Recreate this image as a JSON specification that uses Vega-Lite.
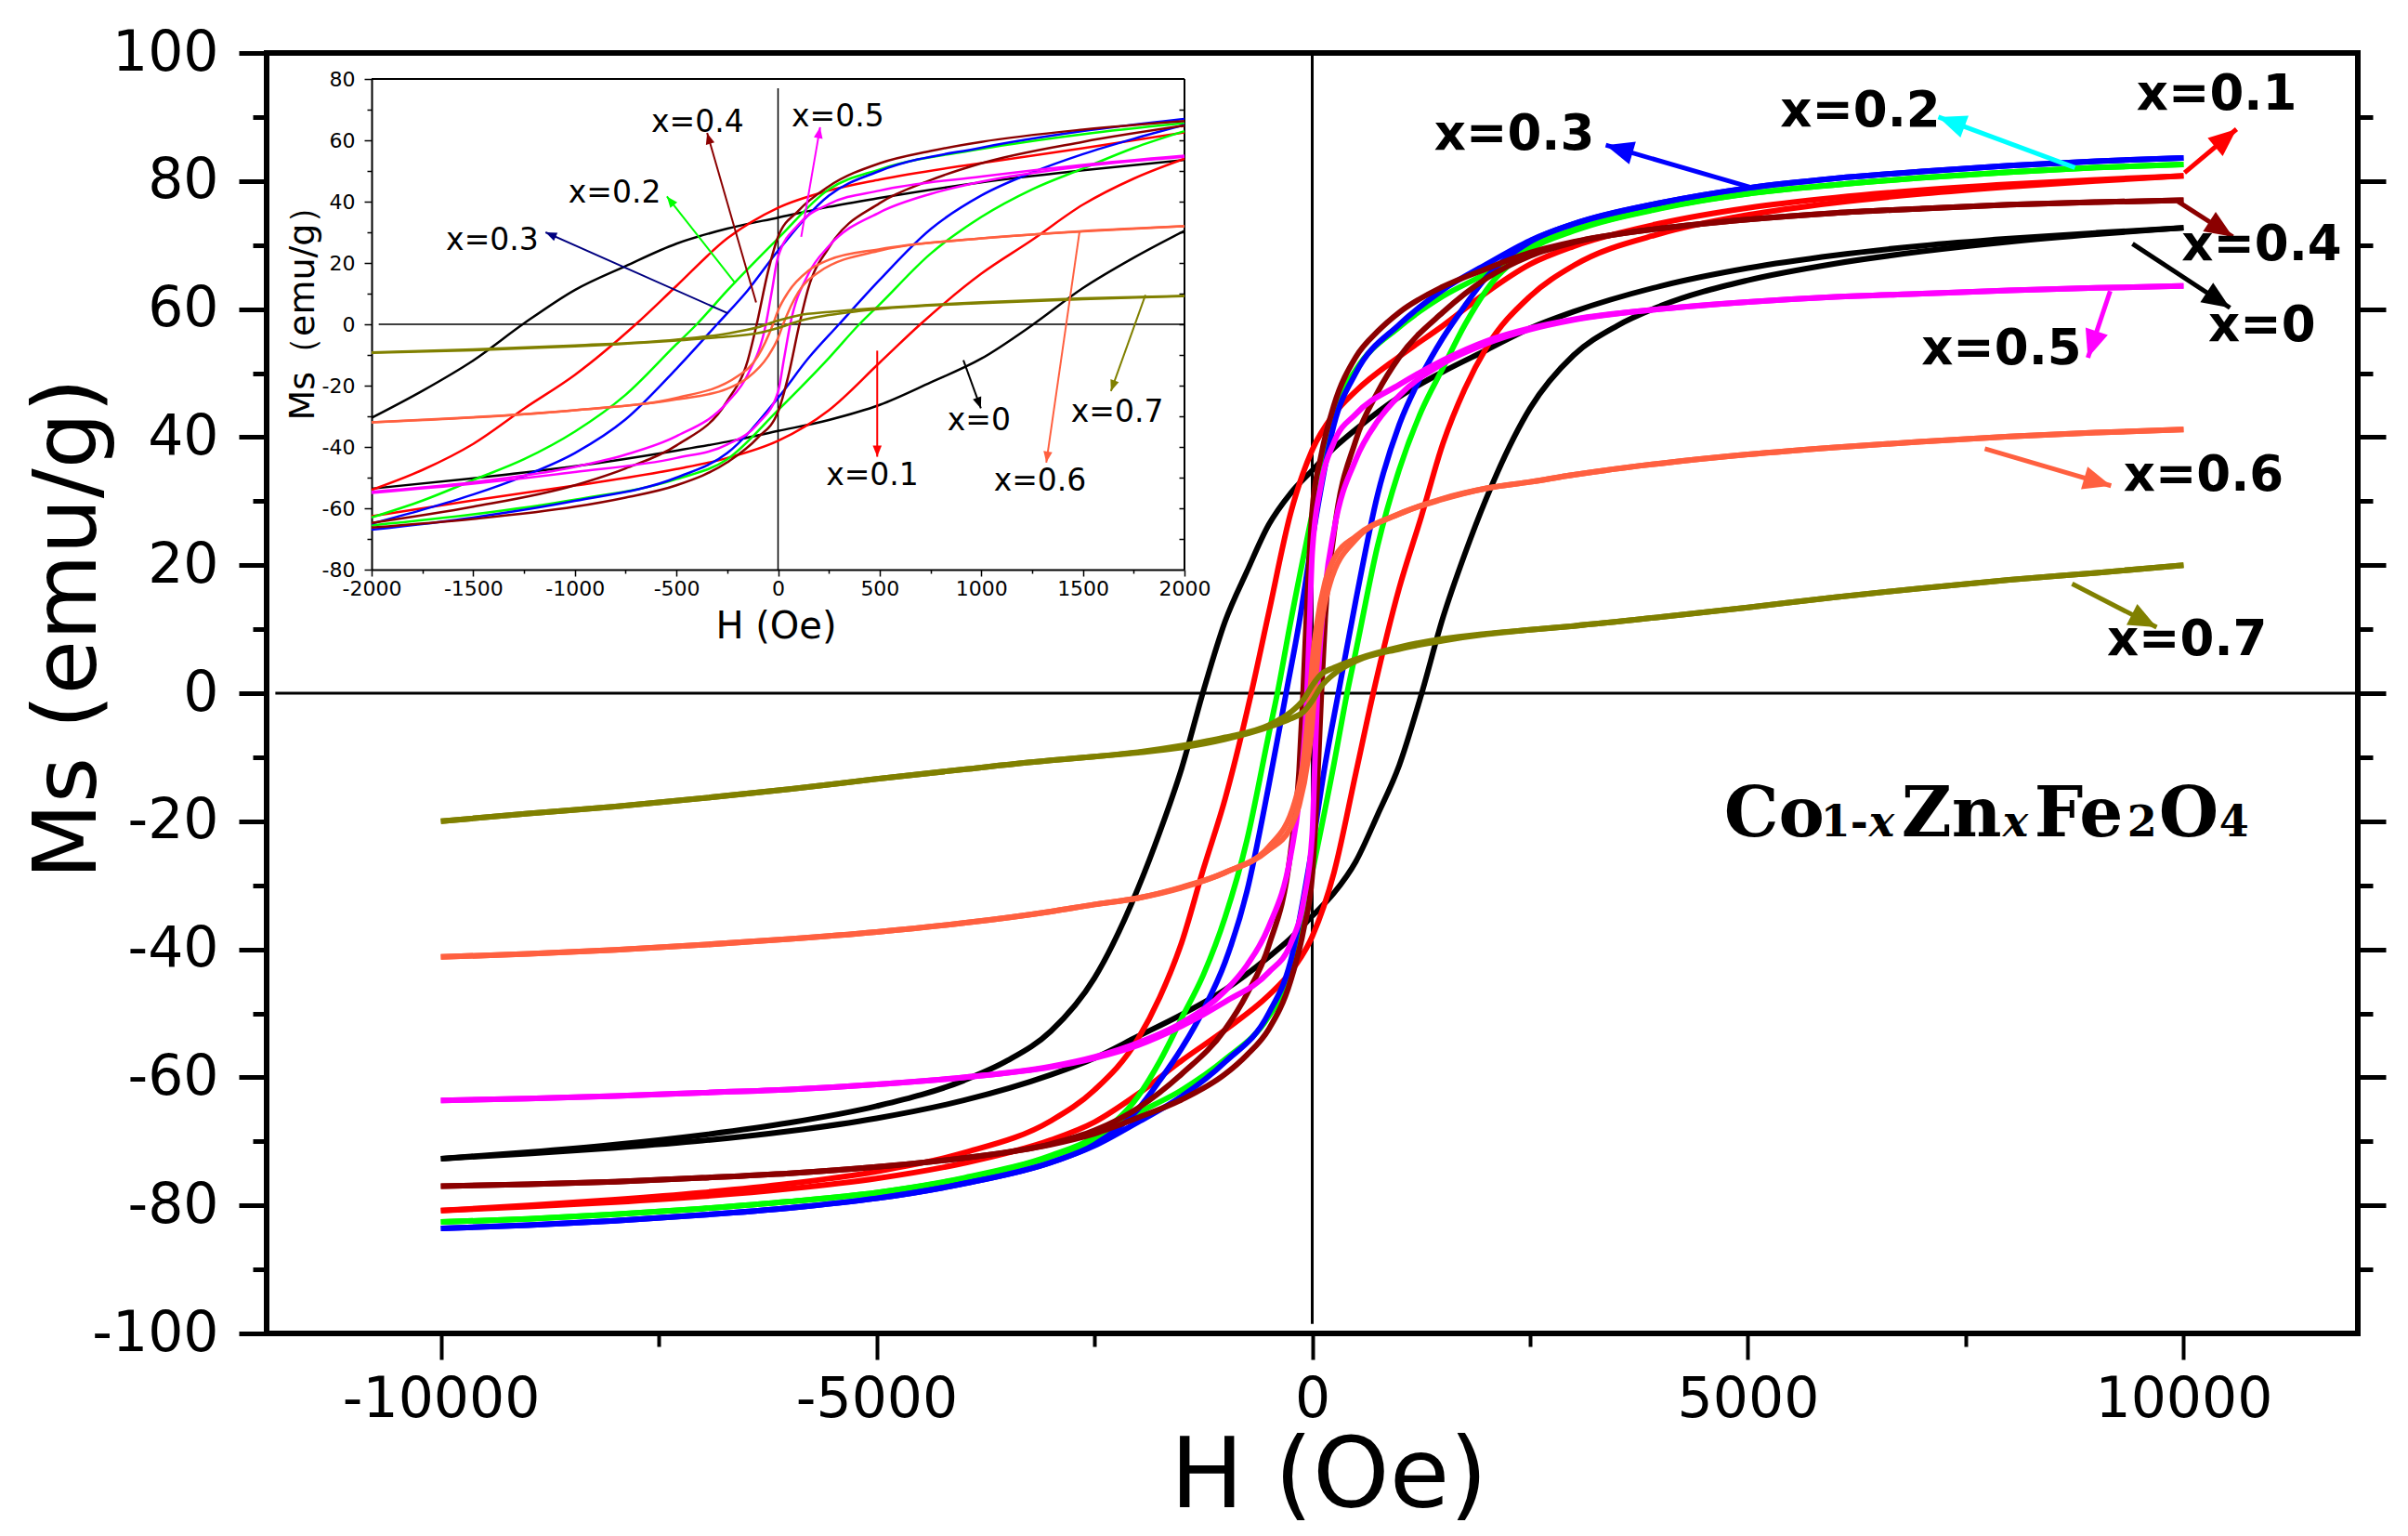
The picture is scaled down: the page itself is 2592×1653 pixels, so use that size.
{
"$schema": "https://vega.github.io/schema/vega-lite/v6.json",
"width": 2251, "height": 1378,
"autosize": {"type": "none"},
"padding": {"left": 287, "top": 57, "right": 54, "bottom": 218},
"background": "white",
"config": {
  "view": {"stroke": "black", "strokeWidth": 6},
  "font": "DejaVu Sans",
  "axis": {"grid": false, "labelFont": "DejaVu Sans", "titleFont": "DejaVu Sans", "labelColor": "black", "titleColor": "black", "tickColor": "black", "domainColor": "black", "labelFlush": false, "labelOverlap": false, "labelBound": false, "labelLimit": 0, "titleFontWeight": "normal"}
},
"datasets": {
"loops": [
{"s":"x=0","b":"u","h":10000,"m":72.7},{"s":"x=0","b":"u","h":9000,"m":71.9},{"s":"x=0","b":"u","h":8000,"m":71.0},{"s":"x=0","b":"u","h":7000,"m":69.9},{"s":"x=0","b":"u","h":6000,"m":68.4},{"s":"x=0","b":"u","h":5000,"m":66.4},{"s":"x=0","b":"u","h":4000,"m":63.6},{"s":"x=0","b":"u","h":3000,"m":59.6},{"s":"x=0","b":"u","h":2500,"m":57.0},{"s":"x=0","b":"u","h":2000,"m":53.6},{"s":"x=0","b":"u","h":1500,"m":50.2},{"s":"x=0","b":"u","h":1000,"m":46.3},{"s":"x=0","b":"u","h":500,"m":41.2},{"s":"x=0","b":"u","h":250,"m":38.3},{"s":"x=0","b":"u","h":0,"m":34.8},{"s":"x=0","b":"u","h":-250,"m":31.2},{"s":"x=0","b":"u","h":-500,"m":26.3},{"s":"x=0","b":"u","h":-750,"m":19.0},{"s":"x=0","b":"u","h":-1000,"m":11.2},{"s":"x=0","b":"u","h":-1250,"m":0.3},{"s":"x=0","b":"u","h":-1500,"m":-11.8},{"s":"x=0","b":"u","h":-1750,"m":-21.7},{"s":"x=0","b":"u","h":-2000,"m":-30.5},{"s":"x=0","b":"u","h":-2500,"m":-44.5},{"s":"x=0","b":"u","h":-3000,"m":-52.8},{"s":"x=0","b":"u","h":-3500,"m":-57.4},{"s":"x=0","b":"u","h":-4000,"m":-60.5},{"s":"x=0","b":"u","h":-5000,"m":-64.5},{"s":"x=0","b":"u","h":-6000,"m":-67.1},{"s":"x=0","b":"u","h":-7000,"m":-69.0},{"s":"x=0","b":"u","h":-8000,"m":-70.5},{"s":"x=0","b":"u","h":-9000,"m":-71.7},{"s":"x=0","b":"u","h":-10000,"m":-72.7},
{"s":"x=0","b":"d","h":-10000,"m":-72.7},{"s":"x=0","b":"d","h":-9000,"m":-71.9},{"s":"x=0","b":"d","h":-8000,"m":-71.0},{"s":"x=0","b":"d","h":-7000,"m":-69.9},{"s":"x=0","b":"d","h":-6000,"m":-68.4},{"s":"x=0","b":"d","h":-5000,"m":-66.4},{"s":"x=0","b":"d","h":-4000,"m":-63.6},{"s":"x=0","b":"d","h":-3000,"m":-59.6},{"s":"x=0","b":"d","h":-2500,"m":-57.0},{"s":"x=0","b":"d","h":-2000,"m":-53.6},{"s":"x=0","b":"d","h":-1500,"m":-50.2},{"s":"x=0","b":"d","h":-1000,"m":-46.3},{"s":"x=0","b":"d","h":-500,"m":-41.2},{"s":"x=0","b":"d","h":-250,"m":-38.3},{"s":"x=0","b":"d","h":0,"m":-34.8},{"s":"x=0","b":"d","h":250,"m":-31.2},{"s":"x=0","b":"d","h":500,"m":-26.3},{"s":"x=0","b":"d","h":750,"m":-19.0},{"s":"x=0","b":"d","h":1000,"m":-11.2},{"s":"x=0","b":"d","h":1250,"m":-0.3},{"s":"x=0","b":"d","h":1500,"m":11.8},{"s":"x=0","b":"d","h":1750,"m":21.7},{"s":"x=0","b":"d","h":2000,"m":30.5},{"s":"x=0","b":"d","h":2500,"m":44.5},{"s":"x=0","b":"d","h":3000,"m":52.8},{"s":"x=0","b":"d","h":3500,"m":57.4},{"s":"x=0","b":"d","h":4000,"m":60.5},{"s":"x=0","b":"d","h":5000,"m":64.5},{"s":"x=0","b":"d","h":6000,"m":67.1},{"s":"x=0","b":"d","h":7000,"m":69.0},{"s":"x=0","b":"d","h":8000,"m":70.5},{"s":"x=0","b":"d","h":9000,"m":71.7},{"s":"x=0","b":"d","h":10000,"m":72.7},
{"s":"x=0.1","b":"u","h":10000,"m":80.8},{"s":"x=0.1","b":"u","h":9000,"m":80.2},{"s":"x=0.1","b":"u","h":8000,"m":79.5},{"s":"x=0.1","b":"u","h":7000,"m":78.6},{"s":"x=0.1","b":"u","h":6000,"m":77.4},{"s":"x=0.1","b":"u","h":5000,"m":75.8},{"s":"x=0.1","b":"u","h":4000,"m":73.4},{"s":"x=0.1","b":"u","h":3000,"m":69.8},{"s":"x=0.1","b":"u","h":2500,"m":67.0},{"s":"x=0.1","b":"u","h":2000,"m":62.6},{"s":"x=0.1","b":"u","h":1500,"m":57.4},{"s":"x=0.1","b":"u","h":1000,"m":52.6},{"s":"x=0.1","b":"u","h":500,"m":47.2},{"s":"x=0.1","b":"u","h":250,"m":43.6},{"s":"x=0.1","b":"u","h":0,"m":38.0},{"s":"x=0.1","b":"u","h":-250,"m":28.0},{"s":"x=0.1","b":"u","h":-500,"m":12.5},{"s":"x=0.1","b":"u","h":-700,"m":0.0},{"s":"x=0.1","b":"u","h":-1000,"m":-16.5},{"s":"x=0.1","b":"u","h":-1250,"m":-27.5},{"s":"x=0.1","b":"u","h":-1500,"m":-39.0},{"s":"x=0.1","b":"u","h":-1750,"m":-47.5},{"s":"x=0.1","b":"u","h":-2000,"m":-54.0},{"s":"x=0.1","b":"u","h":-2500,"m":-62.0},{"s":"x=0.1","b":"u","h":-3000,"m":-66.8},{"s":"x=0.1","b":"u","h":-4000,"m":-71.8},{"s":"x=0.1","b":"u","h":-5000,"m":-74.7},{"s":"x=0.1","b":"u","h":-6000,"m":-76.6},{"s":"x=0.1","b":"u","h":-7000,"m":-78.0},{"s":"x=0.1","b":"u","h":-8000,"m":-79.1},{"s":"x=0.1","b":"u","h":-9000,"m":-80.0},{"s":"x=0.1","b":"u","h":-10000,"m":-80.8},
{"s":"x=0.1","b":"d","h":-10000,"m":-80.8},{"s":"x=0.1","b":"d","h":-9000,"m":-80.2},{"s":"x=0.1","b":"d","h":-8000,"m":-79.5},{"s":"x=0.1","b":"d","h":-7000,"m":-78.6},{"s":"x=0.1","b":"d","h":-6000,"m":-77.4},{"s":"x=0.1","b":"d","h":-5000,"m":-75.8},{"s":"x=0.1","b":"d","h":-4000,"m":-73.4},{"s":"x=0.1","b":"d","h":-3000,"m":-69.8},{"s":"x=0.1","b":"d","h":-2500,"m":-67.0},{"s":"x=0.1","b":"d","h":-2000,"m":-62.6},{"s":"x=0.1","b":"d","h":-1500,"m":-57.4},{"s":"x=0.1","b":"d","h":-1000,"m":-52.6},{"s":"x=0.1","b":"d","h":-500,"m":-47.2},{"s":"x=0.1","b":"d","h":-250,"m":-43.6},{"s":"x=0.1","b":"d","h":0,"m":-38.0},{"s":"x=0.1","b":"d","h":250,"m":-28.0},{"s":"x=0.1","b":"d","h":500,"m":-12.5},{"s":"x=0.1","b":"d","h":700,"m":0.0},{"s":"x=0.1","b":"d","h":1000,"m":16.5},{"s":"x=0.1","b":"d","h":1250,"m":27.5},{"s":"x=0.1","b":"d","h":1500,"m":39.0},{"s":"x=0.1","b":"d","h":1750,"m":47.5},{"s":"x=0.1","b":"d","h":2000,"m":54.0},{"s":"x=0.1","b":"d","h":2500,"m":62.0},{"s":"x=0.1","b":"d","h":3000,"m":66.8},{"s":"x=0.1","b":"d","h":4000,"m":71.8},{"s":"x=0.1","b":"d","h":5000,"m":74.7},{"s":"x=0.1","b":"d","h":6000,"m":76.6},{"s":"x=0.1","b":"d","h":7000,"m":78.0},{"s":"x=0.1","b":"d","h":8000,"m":79.1},{"s":"x=0.1","b":"d","h":9000,"m":80.0},{"s":"x=0.1","b":"d","h":10000,"m":80.8},
{"s":"x=0.2","b":"u","h":10000,"m":82.6},{"s":"x=0.2","b":"u","h":9000,"m":82.1},{"s":"x=0.2","b":"u","h":8000,"m":81.4},{"s":"x=0.2","b":"u","h":7000,"m":80.5},{"s":"x=0.2","b":"u","h":6000,"m":79.4},{"s":"x=0.2","b":"u","h":5000,"m":78.0},{"s":"x=0.2","b":"u","h":4000,"m":75.8},{"s":"x=0.2","b":"u","h":3000,"m":72.4},{"s":"x=0.2","b":"u","h":2500,"m":69.8},{"s":"x=0.2","b":"u","h":2000,"m":65.6},{"s":"x=0.2","b":"u","h":1500,"m":62.0},{"s":"x=0.2","b":"u","h":1000,"m":57.2},{"s":"x=0.2","b":"u","h":500,"m":50.5},{"s":"x=0.2","b":"u","h":250,"m":44.0},{"s":"x=0.2","b":"u","h":0,"m":28.0},{"s":"x=0.2","b":"u","h":-250,"m":11.0},{"s":"x=0.2","b":"u","h":-400,"m":0.0},{"s":"x=0.2","b":"u","h":-500,"m":-6.5},{"s":"x=0.2","b":"u","h":-750,"m":-23.0},{"s":"x=0.2","b":"u","h":-1000,"m":-35.0},{"s":"x=0.2","b":"u","h":-1250,"m":-44.0},{"s":"x=0.2","b":"u","h":-1500,"m":-50.8},{"s":"x=0.2","b":"u","h":-1750,"m":-57.5},{"s":"x=0.2","b":"u","h":-2000,"m":-63.0},{"s":"x=0.2","b":"u","h":-2500,"m":-69.3},{"s":"x=0.2","b":"u","h":-3000,"m":-72.2},{"s":"x=0.2","b":"u","h":-4000,"m":-75.7},{"s":"x=0.2","b":"u","h":-5000,"m":-78.0},{"s":"x=0.2","b":"u","h":-6000,"m":-79.4},{"s":"x=0.2","b":"u","h":-7000,"m":-80.5},{"s":"x=0.2","b":"u","h":-8000,"m":-81.4},{"s":"x=0.2","b":"u","h":-9000,"m":-82.1},{"s":"x=0.2","b":"u","h":-10000,"m":-82.6},
{"s":"x=0.2","b":"d","h":-10000,"m":-82.6},{"s":"x=0.2","b":"d","h":-9000,"m":-82.1},{"s":"x=0.2","b":"d","h":-8000,"m":-81.4},{"s":"x=0.2","b":"d","h":-7000,"m":-80.5},{"s":"x=0.2","b":"d","h":-6000,"m":-79.4},{"s":"x=0.2","b":"d","h":-5000,"m":-78.0},{"s":"x=0.2","b":"d","h":-4000,"m":-75.8},{"s":"x=0.2","b":"d","h":-3000,"m":-72.4},{"s":"x=0.2","b":"d","h":-2500,"m":-69.8},{"s":"x=0.2","b":"d","h":-2000,"m":-65.6},{"s":"x=0.2","b":"d","h":-1500,"m":-62.0},{"s":"x=0.2","b":"d","h":-1000,"m":-57.2},{"s":"x=0.2","b":"d","h":-500,"m":-50.5},{"s":"x=0.2","b":"d","h":-250,"m":-44.0},{"s":"x=0.2","b":"d","h":0,"m":-28.0},{"s":"x=0.2","b":"d","h":250,"m":-11.0},{"s":"x=0.2","b":"d","h":400,"m":0.0},{"s":"x=0.2","b":"d","h":500,"m":6.5},{"s":"x=0.2","b":"d","h":750,"m":23.0},{"s":"x=0.2","b":"d","h":1000,"m":35.0},{"s":"x=0.2","b":"d","h":1250,"m":44.0},{"s":"x=0.2","b":"d","h":1500,"m":50.8},{"s":"x=0.2","b":"d","h":1750,"m":57.5},{"s":"x=0.2","b":"d","h":2000,"m":63.0},{"s":"x=0.2","b":"d","h":2500,"m":69.3},{"s":"x=0.2","b":"d","h":3000,"m":72.2},{"s":"x=0.2","b":"d","h":4000,"m":75.7},{"s":"x=0.2","b":"d","h":5000,"m":78.0},{"s":"x=0.2","b":"d","h":6000,"m":79.4},{"s":"x=0.2","b":"d","h":7000,"m":80.5},{"s":"x=0.2","b":"d","h":8000,"m":81.4},{"s":"x=0.2","b":"d","h":9000,"m":82.1},{"s":"x=0.2","b":"d","h":10000,"m":82.6},
{"s":"x=0.3","b":"u","h":10000,"m":83.6},{"s":"x=0.3","b":"u","h":9000,"m":83.1},{"s":"x=0.3","b":"u","h":8000,"m":82.4},{"s":"x=0.3","b":"u","h":7000,"m":81.5},{"s":"x=0.3","b":"u","h":6000,"m":80.4},{"s":"x=0.3","b":"u","h":5000,"m":78.9},{"s":"x=0.3","b":"u","h":4000,"m":76.6},{"s":"x=0.3","b":"u","h":3000,"m":73.3},{"s":"x=0.3","b":"u","h":2500,"m":70.7},{"s":"x=0.3","b":"u","h":2000,"m":67.0},{"s":"x=0.3","b":"u","h":1500,"m":63.0},{"s":"x=0.3","b":"u","h":1000,"m":57.6},{"s":"x=0.3","b":"u","h":500,"m":50.0},{"s":"x=0.3","b":"u","h":250,"m":42.0},{"s":"x=0.3","b":"u","h":0,"m":24.0},{"s":"x=0.3","b":"u","h":-150,"m":11.0},{"s":"x=0.3","b":"u","h":-300,"m":0.0},{"s":"x=0.3","b":"u","h":-500,"m":-14.5},{"s":"x=0.3","b":"u","h":-750,"m":-31.0},{"s":"x=0.3","b":"u","h":-1000,"m":-42.0},{"s":"x=0.3","b":"u","h":-1250,"m":-49.5},{"s":"x=0.3","b":"u","h":-1500,"m":-55.5},{"s":"x=0.3","b":"u","h":-1750,"m":-60.5},{"s":"x=0.3","b":"u","h":-2000,"m":-65.0},{"s":"x=0.3","b":"u","h":-2500,"m":-70.5},{"s":"x=0.3","b":"u","h":-3000,"m":-73.3},{"s":"x=0.3","b":"u","h":-4000,"m":-76.6},{"s":"x=0.3","b":"u","h":-5000,"m":-78.9},{"s":"x=0.3","b":"u","h":-6000,"m":-80.4},{"s":"x=0.3","b":"u","h":-7000,"m":-81.5},{"s":"x=0.3","b":"u","h":-8000,"m":-82.4},{"s":"x=0.3","b":"u","h":-9000,"m":-83.1},{"s":"x=0.3","b":"u","h":-10000,"m":-83.6},
{"s":"x=0.3","b":"d","h":-10000,"m":-83.6},{"s":"x=0.3","b":"d","h":-9000,"m":-83.1},{"s":"x=0.3","b":"d","h":-8000,"m":-82.4},{"s":"x=0.3","b":"d","h":-7000,"m":-81.5},{"s":"x=0.3","b":"d","h":-6000,"m":-80.4},{"s":"x=0.3","b":"d","h":-5000,"m":-78.9},{"s":"x=0.3","b":"d","h":-4000,"m":-76.6},{"s":"x=0.3","b":"d","h":-3000,"m":-73.3},{"s":"x=0.3","b":"d","h":-2500,"m":-70.7},{"s":"x=0.3","b":"d","h":-2000,"m":-67.0},{"s":"x=0.3","b":"d","h":-1500,"m":-63.0},{"s":"x=0.3","b":"d","h":-1000,"m":-57.6},{"s":"x=0.3","b":"d","h":-500,"m":-50.0},{"s":"x=0.3","b":"d","h":-250,"m":-42.0},{"s":"x=0.3","b":"d","h":0,"m":-24.0},{"s":"x=0.3","b":"d","h":150,"m":-11.0},{"s":"x=0.3","b":"d","h":300,"m":0.0},{"s":"x=0.3","b":"d","h":500,"m":14.5},{"s":"x=0.3","b":"d","h":750,"m":31.0},{"s":"x=0.3","b":"d","h":1000,"m":42.0},{"s":"x=0.3","b":"d","h":1250,"m":49.5},{"s":"x=0.3","b":"d","h":1500,"m":55.5},{"s":"x=0.3","b":"d","h":1750,"m":60.5},{"s":"x=0.3","b":"d","h":2000,"m":65.0},{"s":"x=0.3","b":"d","h":2500,"m":70.5},{"s":"x=0.3","b":"d","h":3000,"m":73.3},{"s":"x=0.3","b":"d","h":4000,"m":76.6},{"s":"x=0.3","b":"d","h":5000,"m":78.9},{"s":"x=0.3","b":"d","h":6000,"m":80.4},{"s":"x=0.3","b":"d","h":7000,"m":81.5},{"s":"x=0.3","b":"d","h":8000,"m":82.4},{"s":"x=0.3","b":"d","h":9000,"m":83.1},{"s":"x=0.3","b":"d","h":10000,"m":83.6},
{"s":"x=0.4","b":"u","h":10000,"m":77.0},{"s":"x=0.4","b":"u","h":9000,"m":76.7},{"s":"x=0.4","b":"u","h":8000,"m":76.3},{"s":"x=0.4","b":"u","h":7000,"m":75.7},{"s":"x=0.4","b":"u","h":6000,"m":75.0},{"s":"x=0.4","b":"u","h":5000,"m":74.0},{"s":"x=0.4","b":"u","h":4000,"m":72.6},{"s":"x=0.4","b":"u","h":3000,"m":70.5},{"s":"x=0.4","b":"u","h":2500,"m":68.8},{"s":"x=0.4","b":"u","h":2000,"m":66.3},{"s":"x=0.4","b":"u","h":1500,"m":63.5},{"s":"x=0.4","b":"u","h":1000,"m":59.5},{"s":"x=0.4","b":"u","h":750,"m":56.5},{"s":"x=0.4","b":"u","h":500,"m":52.5},{"s":"x=0.4","b":"u","h":250,"m":45.0},{"s":"x=0.4","b":"u","h":100,"m":37.0},{"s":"x=0.4","b":"u","h":0,"m":28.5},{"s":"x=0.4","b":"u","h":-50,"m":17.0},{"s":"x=0.4","b":"u","h":-105,"m":0.0},{"s":"x=0.4","b":"u","h":-150,"m":-12.0},{"s":"x=0.4","b":"u","h":-250,"m":-25.0},{"s":"x=0.4","b":"u","h":-500,"m":-39.5},{"s":"x=0.4","b":"u","h":-750,"m":-47.0},{"s":"x=0.4","b":"u","h":-1000,"m":-52.5},{"s":"x=0.4","b":"u","h":-1500,"m":-59.5},{"s":"x=0.4","b":"u","h":-2000,"m":-64.8},{"s":"x=0.4","b":"u","h":-2500,"m":-68.3},{"s":"x=0.4","b":"u","h":-3000,"m":-70.4},{"s":"x=0.4","b":"u","h":-4000,"m":-72.6},{"s":"x=0.4","b":"u","h":-5000,"m":-74.0},{"s":"x=0.4","b":"u","h":-6000,"m":-75.0},{"s":"x=0.4","b":"u","h":-7000,"m":-75.7},{"s":"x=0.4","b":"u","h":-8000,"m":-76.3},{"s":"x=0.4","b":"u","h":-9000,"m":-76.7},{"s":"x=0.4","b":"u","h":-10000,"m":-77.0},
{"s":"x=0.4","b":"d","h":-10000,"m":-77.0},{"s":"x=0.4","b":"d","h":-9000,"m":-76.7},{"s":"x=0.4","b":"d","h":-8000,"m":-76.3},{"s":"x=0.4","b":"d","h":-7000,"m":-75.7},{"s":"x=0.4","b":"d","h":-6000,"m":-75.0},{"s":"x=0.4","b":"d","h":-5000,"m":-74.0},{"s":"x=0.4","b":"d","h":-4000,"m":-72.6},{"s":"x=0.4","b":"d","h":-3000,"m":-70.5},{"s":"x=0.4","b":"d","h":-2500,"m":-68.8},{"s":"x=0.4","b":"d","h":-2000,"m":-66.3},{"s":"x=0.4","b":"d","h":-1500,"m":-63.5},{"s":"x=0.4","b":"d","h":-1000,"m":-59.5},{"s":"x=0.4","b":"d","h":-750,"m":-56.5},{"s":"x=0.4","b":"d","h":-500,"m":-52.5},{"s":"x=0.4","b":"d","h":-250,"m":-45.0},{"s":"x=0.4","b":"d","h":-100,"m":-37.0},{"s":"x=0.4","b":"d","h":0,"m":-28.5},{"s":"x=0.4","b":"d","h":50,"m":-17.0},{"s":"x=0.4","b":"d","h":105,"m":0.0},{"s":"x=0.4","b":"d","h":150,"m":12.0},{"s":"x=0.4","b":"d","h":250,"m":25.0},{"s":"x=0.4","b":"d","h":500,"m":39.5},{"s":"x=0.4","b":"d","h":750,"m":47.0},{"s":"x=0.4","b":"d","h":1000,"m":52.5},{"s":"x=0.4","b":"d","h":1500,"m":59.5},{"s":"x=0.4","b":"d","h":2000,"m":64.8},{"s":"x=0.4","b":"d","h":2500,"m":68.3},{"s":"x=0.4","b":"d","h":3000,"m":70.4},{"s":"x=0.4","b":"d","h":4000,"m":72.6},{"s":"x=0.4","b":"d","h":5000,"m":74.0},{"s":"x=0.4","b":"d","h":6000,"m":75.0},{"s":"x=0.4","b":"d","h":7000,"m":75.7},{"s":"x=0.4","b":"d","h":8000,"m":76.3},{"s":"x=0.4","b":"d","h":9000,"m":76.7},{"s":"x=0.4","b":"d","h":10000,"m":77.0},
{"s":"x=0.5","b":"u","h":10000,"m":63.6},{"s":"x=0.5","b":"u","h":9000,"m":63.3},{"s":"x=0.5","b":"u","h":8000,"m":62.9},{"s":"x=0.5","b":"u","h":7000,"m":62.4},{"s":"x=0.5","b":"u","h":6000,"m":61.9},{"s":"x=0.5","b":"u","h":5000,"m":61.1},{"s":"x=0.5","b":"u","h":4000,"m":60.0},{"s":"x=0.5","b":"u","h":3000,"m":58.4},{"s":"x=0.5","b":"u","h":2500,"m":57.0},{"s":"x=0.5","b":"u","h":2000,"m":55.0},{"s":"x=0.5","b":"u","h":1500,"m":52.0},{"s":"x=0.5","b":"u","h":1000,"m":48.2},{"s":"x=0.5","b":"u","h":500,"m":43.6},{"s":"x=0.5","b":"u","h":250,"m":39.2},{"s":"x=0.5","b":"u","h":100,"m":32.5},{"s":"x=0.5","b":"u","h":0,"m":22.0},{"s":"x=0.5","b":"u","h":-30,"m":11.0},{"s":"x=0.5","b":"u","h":-60,"m":0.0},{"s":"x=0.5","b":"u","h":-150,"m":-16.5},{"s":"x=0.5","b":"u","h":-250,"m":-25.5},{"s":"x=0.5","b":"u","h":-500,"m":-36.5},{"s":"x=0.5","b":"u","h":-750,"m":-42.5},{"s":"x=0.5","b":"u","h":-1000,"m":-46.5},{"s":"x=0.5","b":"u","h":-1500,"m":-51.5},{"s":"x=0.5","b":"u","h":-2000,"m":-54.6},{"s":"x=0.5","b":"u","h":-2500,"m":-56.8},{"s":"x=0.5","b":"u","h":-3000,"m":-58.3},{"s":"x=0.5","b":"u","h":-4000,"m":-60.0},{"s":"x=0.5","b":"u","h":-5000,"m":-61.1},{"s":"x=0.5","b":"u","h":-6000,"m":-61.9},{"s":"x=0.5","b":"u","h":-7000,"m":-62.4},{"s":"x=0.5","b":"u","h":-8000,"m":-62.9},{"s":"x=0.5","b":"u","h":-9000,"m":-63.3},{"s":"x=0.5","b":"u","h":-10000,"m":-63.6},
{"s":"x=0.5","b":"d","h":-10000,"m":-63.6},{"s":"x=0.5","b":"d","h":-9000,"m":-63.3},{"s":"x=0.5","b":"d","h":-8000,"m":-62.9},{"s":"x=0.5","b":"d","h":-7000,"m":-62.4},{"s":"x=0.5","b":"d","h":-6000,"m":-61.9},{"s":"x=0.5","b":"d","h":-5000,"m":-61.1},{"s":"x=0.5","b":"d","h":-4000,"m":-60.0},{"s":"x=0.5","b":"d","h":-3000,"m":-58.4},{"s":"x=0.5","b":"d","h":-2500,"m":-57.0},{"s":"x=0.5","b":"d","h":-2000,"m":-55.0},{"s":"x=0.5","b":"d","h":-1500,"m":-52.0},{"s":"x=0.5","b":"d","h":-1000,"m":-48.2},{"s":"x=0.5","b":"d","h":-500,"m":-43.6},{"s":"x=0.5","b":"d","h":-250,"m":-39.2},{"s":"x=0.5","b":"d","h":-100,"m":-32.5},{"s":"x=0.5","b":"d","h":0,"m":-22.0},{"s":"x=0.5","b":"d","h":30,"m":-11.0},{"s":"x=0.5","b":"d","h":60,"m":0.0},{"s":"x=0.5","b":"d","h":150,"m":16.5},{"s":"x=0.5","b":"d","h":250,"m":25.5},{"s":"x=0.5","b":"d","h":500,"m":36.5},{"s":"x=0.5","b":"d","h":750,"m":42.5},{"s":"x=0.5","b":"d","h":1000,"m":46.5},{"s":"x=0.5","b":"d","h":1500,"m":51.5},{"s":"x=0.5","b":"d","h":2000,"m":54.6},{"s":"x=0.5","b":"d","h":2500,"m":56.8},{"s":"x=0.5","b":"d","h":3000,"m":58.3},{"s":"x=0.5","b":"d","h":4000,"m":60.0},{"s":"x=0.5","b":"d","h":5000,"m":61.1},{"s":"x=0.5","b":"d","h":6000,"m":61.9},{"s":"x=0.5","b":"d","h":7000,"m":62.4},{"s":"x=0.5","b":"d","h":8000,"m":62.9},{"s":"x=0.5","b":"d","h":9000,"m":63.3},{"s":"x=0.5","b":"d","h":10000,"m":63.6},
{"s":"x=0.6","b":"u","h":10000,"m":41.2},{"s":"x=0.6","b":"u","h":9000,"m":40.7},{"s":"x=0.6","b":"u","h":8000,"m":40.1},{"s":"x=0.6","b":"u","h":7000,"m":39.3},{"s":"x=0.6","b":"u","h":6000,"m":38.4},{"s":"x=0.6","b":"u","h":5000,"m":37.3},{"s":"x=0.6","b":"u","h":4000,"m":35.9},{"s":"x=0.6","b":"u","h":3000,"m":34.1},{"s":"x=0.6","b":"u","h":2500,"m":33.0},{"s":"x=0.6","b":"u","h":2000,"m":32.0},{"s":"x=0.6","b":"u","h":1500,"m":30.4},{"s":"x=0.6","b":"u","h":1000,"m":28.0},{"s":"x=0.6","b":"u","h":500,"m":24.5},{"s":"x=0.6","b":"u","h":250,"m":21.0},{"s":"x=0.6","b":"u","h":150,"m":17.5},{"s":"x=0.6","b":"u","h":50,"m":10.5},{"s":"x=0.6","b":"u","h":0,"m":4.5},{"s":"x=0.6","b":"u","h":-25,"m":0.0},{"s":"x=0.6","b":"u","h":-100,"m":-10.5},{"s":"x=0.6","b":"u","h":-200,"m":-17.0},{"s":"x=0.6","b":"u","h":-500,"m":-24.0},{"s":"x=0.6","b":"u","h":-1000,"m":-28.0},{"s":"x=0.6","b":"u","h":-1500,"m":-30.3},{"s":"x=0.6","b":"u","h":-2000,"m":-32.0},{"s":"x=0.6","b":"u","h":-2500,"m":-33.0},{"s":"x=0.6","b":"u","h":-3000,"m":-34.1},{"s":"x=0.6","b":"u","h":-4000,"m":-35.9},{"s":"x=0.6","b":"u","h":-5000,"m":-37.3},{"s":"x=0.6","b":"u","h":-6000,"m":-38.4},{"s":"x=0.6","b":"u","h":-7000,"m":-39.3},{"s":"x=0.6","b":"u","h":-8000,"m":-40.1},{"s":"x=0.6","b":"u","h":-9000,"m":-40.7},{"s":"x=0.6","b":"u","h":-10000,"m":-41.2},
{"s":"x=0.6","b":"d","h":-10000,"m":-41.2},{"s":"x=0.6","b":"d","h":-9000,"m":-40.7},{"s":"x=0.6","b":"d","h":-8000,"m":-40.1},{"s":"x=0.6","b":"d","h":-7000,"m":-39.3},{"s":"x=0.6","b":"d","h":-6000,"m":-38.4},{"s":"x=0.6","b":"d","h":-5000,"m":-37.3},{"s":"x=0.6","b":"d","h":-4000,"m":-35.9},{"s":"x=0.6","b":"d","h":-3000,"m":-34.1},{"s":"x=0.6","b":"d","h":-2500,"m":-33.0},{"s":"x=0.6","b":"d","h":-2000,"m":-32.0},{"s":"x=0.6","b":"d","h":-1500,"m":-30.4},{"s":"x=0.6","b":"d","h":-1000,"m":-28.0},{"s":"x=0.6","b":"d","h":-500,"m":-24.5},{"s":"x=0.6","b":"d","h":-250,"m":-21.0},{"s":"x=0.6","b":"d","h":-150,"m":-17.5},{"s":"x=0.6","b":"d","h":-50,"m":-10.5},{"s":"x=0.6","b":"d","h":0,"m":-4.5},{"s":"x=0.6","b":"d","h":25,"m":0.0},{"s":"x=0.6","b":"d","h":100,"m":10.5},{"s":"x=0.6","b":"d","h":200,"m":17.0},{"s":"x=0.6","b":"d","h":500,"m":24.0},{"s":"x=0.6","b":"d","h":1000,"m":28.0},{"s":"x=0.6","b":"d","h":1500,"m":30.3},{"s":"x=0.6","b":"d","h":2000,"m":32.0},{"s":"x=0.6","b":"d","h":2500,"m":33.0},{"s":"x=0.6","b":"d","h":3000,"m":34.1},{"s":"x=0.6","b":"d","h":4000,"m":35.9},{"s":"x=0.6","b":"d","h":5000,"m":37.3},{"s":"x=0.6","b":"d","h":6000,"m":38.4},{"s":"x=0.6","b":"d","h":7000,"m":39.3},{"s":"x=0.6","b":"d","h":8000,"m":40.1},{"s":"x=0.6","b":"d","h":9000,"m":40.7},{"s":"x=0.6","b":"d","h":10000,"m":41.2},
{"s":"x=0.7","b":"u","h":10000,"m":20.0},{"s":"x=0.7","b":"u","h":9000,"m":18.8},{"s":"x=0.7","b":"u","h":8000,"m":17.7},{"s":"x=0.7","b":"u","h":7000,"m":16.4},{"s":"x=0.7","b":"u","h":6000,"m":15.0},{"s":"x=0.7","b":"u","h":5000,"m":13.4},{"s":"x=0.7","b":"u","h":4000,"m":11.9},{"s":"x=0.7","b":"u","h":3000,"m":10.5},{"s":"x=0.7","b":"u","h":2500,"m":9.9},{"s":"x=0.7","b":"u","h":2000,"m":9.3},{"s":"x=0.7","b":"u","h":1500,"m":8.5},{"s":"x=0.7","b":"u","h":1000,"m":7.2},{"s":"x=0.7","b":"u","h":500,"m":5.3},{"s":"x=0.7","b":"u","h":250,"m":4.0},{"s":"x=0.7","b":"u","h":100,"m":2.9},{"s":"x=0.7","b":"u","h":0,"m":1.2},{"s":"x=0.7","b":"u","h":-100,"m":-1.0},{"s":"x=0.7","b":"u","h":-250,"m":-3.0},{"s":"x=0.7","b":"u","h":-500,"m":-5.0},{"s":"x=0.7","b":"u","h":-1000,"m":-6.9},{"s":"x=0.7","b":"u","h":-1500,"m":-8.2},{"s":"x=0.7","b":"u","h":-2000,"m":-9.2},{"s":"x=0.7","b":"u","h":-2500,"m":-9.9},{"s":"x=0.7","b":"u","h":-3000,"m":-10.5},{"s":"x=0.7","b":"u","h":-4000,"m":-11.9},{"s":"x=0.7","b":"u","h":-5000,"m":-13.4},{"s":"x=0.7","b":"u","h":-6000,"m":-15.0},{"s":"x=0.7","b":"u","h":-7000,"m":-16.4},{"s":"x=0.7","b":"u","h":-8000,"m":-17.7},{"s":"x=0.7","b":"u","h":-9000,"m":-18.8},{"s":"x=0.7","b":"u","h":-10000,"m":-20.0},
{"s":"x=0.7","b":"d","h":-10000,"m":-20.0},{"s":"x=0.7","b":"d","h":-9000,"m":-18.8},{"s":"x=0.7","b":"d","h":-8000,"m":-17.7},{"s":"x=0.7","b":"d","h":-7000,"m":-16.4},{"s":"x=0.7","b":"d","h":-6000,"m":-15.0},{"s":"x=0.7","b":"d","h":-5000,"m":-13.4},{"s":"x=0.7","b":"d","h":-4000,"m":-11.9},{"s":"x=0.7","b":"d","h":-3000,"m":-10.5},{"s":"x=0.7","b":"d","h":-2500,"m":-9.9},{"s":"x=0.7","b":"d","h":-2000,"m":-9.3},{"s":"x=0.7","b":"d","h":-1500,"m":-8.5},{"s":"x=0.7","b":"d","h":-1000,"m":-7.2},{"s":"x=0.7","b":"d","h":-500,"m":-5.3},{"s":"x=0.7","b":"d","h":-250,"m":-4.0},{"s":"x=0.7","b":"d","h":-100,"m":-2.9},{"s":"x=0.7","b":"d","h":0,"m":-1.2},{"s":"x=0.7","b":"d","h":100,"m":1.0},{"s":"x=0.7","b":"d","h":250,"m":3.0},{"s":"x=0.7","b":"d","h":500,"m":5.0},{"s":"x=0.7","b":"d","h":1000,"m":6.9},{"s":"x=0.7","b":"d","h":1500,"m":8.2},{"s":"x=0.7","b":"d","h":2000,"m":9.2},{"s":"x=0.7","b":"d","h":2500,"m":9.9},{"s":"x=0.7","b":"d","h":3000,"m":10.5},{"s":"x=0.7","b":"d","h":4000,"m":11.9},{"s":"x=0.7","b":"d","h":5000,"m":13.4},{"s":"x=0.7","b":"d","h":6000,"m":15.0},{"s":"x=0.7","b":"d","h":7000,"m":16.4},{"s":"x=0.7","b":"d","h":8000,"m":17.7},{"s":"x=0.7","b":"d","h":9000,"m":18.8},{"s":"x=0.7","b":"d","h":10000,"m":20.0}
],
"mainNotes": [
{"s":"x=0.3","tx":2320,"ty":87.3,"ax":5032,"ay":79.0,"hx":3369,"hy":85.6,"ang":286.4},
{"s":"x=0.2","tx":6290,"ty":90.9,"ax":8753,"ay":82.1,"hx":7186,"hy":90.0,"ang":290.2},
{"s":"x=0.1","tx":10380,"ty":93.5,"ax":10011,"ay":81.3,"hx":10608,"hy":88.1,"ang":50},
{"s":"x=0.4","tx":10896,"ty":70.0,"ax":9936,"ay":76.8,"hx":10565,"hy":71.3,"ang":122.8},
{"s":"x=0","tx":10900,"ty":57.3,"ax":9414,"ay":70.2,"hx":10533,"hy":60.2,"ang":123.3},
{"s":"x=0.5","tx":7910,"ty":53.7,"ax":9158,"ay":62.8,"hx":8902,"hy":52.4,"ang":198.4},
{"s":"x=0.6","tx":10230,"ty":33.9,"ax":7719,"ay":38.2,"hx":9168,"hy":32.4,"ang":106.4},
{"s":"x=0.7","tx":10040,"ty":8.3,"ax":8721,"ay":17.1,"hx":9691,"hy":10.3,"ang":117.3}
],
"insetNotes": [
{"s":"x=0.4","tx":-396,"ty":65.9,"ax":-108,"ay":7.1,"hx":-349,"hy":62.4,"ang":-16.1},
{"s":"x=0.5","tx":294,"ty":67.7,"ax":114,"ay":28.5,"hx":207,"hy":64.3,"ang":9.7},
{"s":"x=0.2","tx":-804,"ty":42.7,"ax":-210,"ay":13.4,"hx":-547,"hy":41.7,"ang":-38.3},
{"s":"x=0.3","tx":-1406,"ty":27.2,"ax":-247,"ay":3.6,"hx":-1144,"hy":30.0,"ang":-66.1},
{"s":"x=0","tx":989,"ty":-31.6,"ax":912,"ay":-11.7,"hx":998,"hy":-27.4,"ang":160},
{"s":"x=0.1","tx":464,"ty":-49.5,"ax":488,"ay":-8.6,"hx":488,"hy":-43.2,"ang":180},
{"s":"x=0.6","tx":1289,"ty":-51.3,"ax":1484,"ay":30.4,"hx":1320,"hy":-45.1,"ang":188.2},
{"s":"x=0.7","tx":1669,"ty":-28.7,"ax":1808,"ay":9.6,"hx":1638,"hy":-21.8,"ang":199.7}
]
},
"layer": [
{
"layer": [
 {"data": {"values": [{}]}, "mark": {"type": "rule", "strokeWidth": 3, "color": "black"},
  "encoding": {
   "x": {"datum": -11900, "type": "quantitative", "scale": {"domain": [-12000, 12000], "nice": false, "zero": false},
     "axis": {"orient": "bottom", "values": [-10000, -5000, 0, 5000, 10000], "tickSize": 28, "tickWidth": 4, "domain": false, "labelFontSize": 60, "labelPadding": 14, "labelExpr": "datum.value < 0 ? '-' + (-datum.value) : '' + datum.value", "title": "H (Oe)", "titleFontSize": 105, "titleX": 1143, "titleY": 186, "titleBaseline": "alphabetic", "titleAlign": "center"}},
   "x2": {"datum": 12000},
   "y": {"datum": 0, "type": "quantitative", "scale": {"domain": [-100, 100], "nice": false, "zero": false},
     "axis": {"orient": "left", "values": [-100, -80, -60, -40, -20, 0, 20, 40, 60, 80, 100], "tickSize": 30, "tickWidth": 5, "domain": false, "labelFontSize": 60, "labelPadding": 22, "labelExpr": "datum.value < 0 ? '-' + (-datum.value) : '' + datum.value", "title": "Ms (emu/g)", "titleFontSize": 95, "titleX": -185, "titleY": 619, "titleBaseline": "alphabetic", "titleAngle": 270, "titleAlign": "center"}}
  }},
 {"data": {"values": [{}]}, "mark": {"type": "rule", "strokeWidth": 3, "color": "black"},
  "encoding": {
   "x": {"datum": 0, "type": "quantitative", "scale": {"domain": [-12000, 12000], "nice": false, "zero": false},
     "axis": {"orient": "bottom", "values": [-7500, -2500, 2500, 7500], "tickSize": 14, "tickWidth": 4, "domain": false, "labels": false, "title": null}},
   "y": {"datum": -98.5, "type": "quantitative", "scale": {"domain": [-100, 100], "nice": false, "zero": false},
     "axis": {"orient": "left", "values": [-90, -70, -50, -30, -10, 10, 30, 50, 70, 90], "tickSize": 15, "tickWidth": 5, "domain": false, "labels": false, "title": null}},
   "y2": {"datum": 100}
  }},
 {"data": {"name": "loops"}, "mark": {"type": "line", "strokeWidth": 6, "interpolate": "monotone"},
  "encoding": {
   "x": {"field": "h", "type": "quantitative", "scale": {"domain": [-12000, 12000], "nice": false, "zero": false}, "axis": null},
   "y": {"field": "m", "type": "quantitative", "scale": {"domain": [-100, 100], "nice": false, "zero": false},
     "axis": {"orient": "right", "values": [-80, -60, -40, -20, 0, 20, 40, 60, 80], "tickSize": 30, "tickWidth": 5, "domain": false, "labels": false, "title": null}},
   "color": {"field": "s", "type": "nominal", "scale": {"domain": ["x=0", "x=0.1", "x=0.2", "x=0.3", "x=0.4", "x=0.5", "x=0.6", "x=0.7"], "range": ["#000000", "#FF0000", "#00FF00", "#0000FF", "#8B0000", "#FF00FF", "#FF6040", "#808000"]}, "legend": null},
   "detail": {"field": "b", "type": "nominal"}
  }},
 {"data": {"name": "mainNotes"}, "mark": {"type": "rule", "strokeWidth": 5},
  "encoding": {
   "x": {"field": "ax", "type": "quantitative", "scale": {"domain": [-12000, 12000], "nice": false, "zero": false}, "axis": null},
   "x2": {"field": "hx"},
   "y": {"field": "ay", "type": "quantitative", "scale": {"domain": [-100, 100], "nice": false, "zero": false},
     "axis": {"orient": "right", "values": [-90, -70, -50, -30, -10, 10, 30, 50, 70, 90], "tickSize": 16, "tickWidth": 5, "domain": false, "labels": false, "title": null}},
   "y2": {"field": "hy"},
   "color": {"condition": {"test": "datum.s === 'x=0.2'", "value": "#00FFFF"}, "field": "s", "type": "nominal", "legend": null}
  }},
 {"data": {"name": "mainNotes"}, "mark": {"type": "point", "shape": "M0,0L0.42,1L-0.42,1Z", "filled": true, "opacity": 1, "size": 3600},
  "encoding": {
   "x": {"field": "hx", "type": "quantitative", "scale": {"domain": [-12000, 12000], "nice": false, "zero": false}, "axis": null},
   "y": {"field": "hy", "type": "quantitative", "scale": {"domain": [-100, 100], "nice": false, "zero": false}, "axis": null},
   "angle": {"field": "ang", "type": "quantitative", "scale": null},
   "color": {"condition": {"test": "datum.s === 'x=0.2'", "value": "#00FFFF"}, "field": "s", "type": "nominal", "legend": null}
  }},
 {"data": {"name": "mainNotes"}, "mark": {"type": "text", "font": "DejaVu Sans", "fontWeight": "bold", "fontSize": 53, "color": "black", "align": "center", "baseline": "middle"},
  "encoding": {
   "x": {"field": "tx", "type": "quantitative", "scale": {"domain": [-12000, 12000], "nice": false, "zero": false}, "axis": null},
   "y": {"field": "ty", "type": "quantitative", "scale": {"domain": [-100, 100], "nice": false, "zero": false}, "axis": null},
   "text": {"field": "s"}
  }},
 {"data": {"values": [{}]}, "mark": {"type": "text", "text": "Co", "font": "DejaVu Serif", "fontWeight": "bold", "fontSize": 74, "align": "left", "baseline": "alphabetic", "dx": 0, "color": "black"},
  "encoding": {"x": {"datum": 4725, "type": "quantitative", "scale": {"domain": [-12000, 12000], "nice": false, "zero": false}, "axis": null}, "y": {"datum": -22.4, "type": "quantitative", "scale": {"domain": [-100, 100], "nice": false, "zero": false}, "axis": null}}},
 {"data": {"values": [{}]}, "mark": {"type": "text", "text": "1-", "font": "DejaVu Serif", "fontWeight": "bold", "fontSize": 46, "align": "left", "baseline": "alphabetic", "dx": 104, "color": "black"},
  "encoding": {"x": {"datum": 4725, "type": "quantitative", "scale": {"domain": [-12000, 12000], "nice": false, "zero": false}, "axis": null}, "y": {"datum": -22.4, "type": "quantitative", "scale": {"domain": [-100, 100], "nice": false, "zero": false}, "axis": null}}},
 {"data": {"values": [{}]}, "mark": {"type": "text", "text": "x", "font": "DejaVu Serif", "fontWeight": "bold", "fontStyle": "italic", "fontSize": 46, "align": "left", "baseline": "alphabetic", "dx": 156, "color": "black"},
  "encoding": {"x": {"datum": 4725, "type": "quantitative", "scale": {"domain": [-12000, 12000], "nice": false, "zero": false}, "axis": null}, "y": {"datum": -22.4, "type": "quantitative", "scale": {"domain": [-100, 100], "nice": false, "zero": false}, "axis": null}}},
 {"data": {"values": [{}]}, "mark": {"type": "text", "text": "Zn", "font": "DejaVu Serif", "fontWeight": "bold", "fontSize": 74, "align": "left", "baseline": "alphabetic", "dx": 191, "color": "black"},
  "encoding": {"x": {"datum": 4725, "type": "quantitative", "scale": {"domain": [-12000, 12000], "nice": false, "zero": false}, "axis": null}, "y": {"datum": -22.4, "type": "quantitative", "scale": {"domain": [-100, 100], "nice": false, "zero": false}, "axis": null}}},
 {"data": {"values": [{}]}, "mark": {"type": "text", "text": "x", "font": "DejaVu Serif", "fontWeight": "bold", "fontStyle": "italic", "fontSize": 46, "align": "left", "baseline": "alphabetic", "dx": 300, "color": "black"},
  "encoding": {"x": {"datum": 4725, "type": "quantitative", "scale": {"domain": [-12000, 12000], "nice": false, "zero": false}, "axis": null}, "y": {"datum": -22.4, "type": "quantitative", "scale": {"domain": [-100, 100], "nice": false, "zero": false}, "axis": null}}},
 {"data": {"values": [{}]}, "mark": {"type": "text", "text": "Fe", "font": "DejaVu Serif", "fontWeight": "bold", "fontSize": 74, "align": "left", "baseline": "alphabetic", "dx": 334, "color": "black"},
  "encoding": {"x": {"datum": 4725, "type": "quantitative", "scale": {"domain": [-12000, 12000], "nice": false, "zero": false}, "axis": null}, "y": {"datum": -22.4, "type": "quantitative", "scale": {"domain": [-100, 100], "nice": false, "zero": false}, "axis": null}}},
 {"data": {"values": [{}]}, "mark": {"type": "text", "text": "2", "font": "DejaVu Serif", "fontWeight": "bold", "fontSize": 46, "align": "left", "baseline": "alphabetic", "dx": 434, "color": "black"},
  "encoding": {"x": {"datum": 4725, "type": "quantitative", "scale": {"domain": [-12000, 12000], "nice": false, "zero": false}, "axis": null}, "y": {"datum": -22.4, "type": "quantitative", "scale": {"domain": [-100, 100], "nice": false, "zero": false}, "axis": null}}},
 {"data": {"values": [{}]}, "mark": {"type": "text", "text": "O", "font": "DejaVu Serif", "fontWeight": "bold", "fontSize": 74, "align": "left", "baseline": "alphabetic", "dx": 468, "color": "black"},
  "encoding": {"x": {"datum": 4725, "type": "quantitative", "scale": {"domain": [-12000, 12000], "nice": false, "zero": false}, "axis": null}, "y": {"datum": -22.4, "type": "quantitative", "scale": {"domain": [-100, 100], "nice": false, "zero": false}, "axis": null}}},
 {"data": {"values": [{}]}, "mark": {"type": "text", "text": "4", "font": "DejaVu Serif", "fontWeight": "bold", "fontSize": 46, "align": "left", "baseline": "alphabetic", "dx": 533, "color": "black"},
  "encoding": {"x": {"datum": 4725, "type": "quantitative", "scale": {"domain": [-12000, 12000], "nice": false, "zero": false}, "axis": null}, "y": {"datum": -22.4, "type": "quantitative", "scale": {"domain": [-100, 100], "nice": false, "zero": false}, "axis": null}}}
],
"resolve": {"axis": {"x": "independent", "y": "independent"}}
},
{
"layer": [
 {"data": {"values": [{}]}, "mark": {"type": "rule", "strokeWidth": 1.5, "color": "black"},
  "encoding": {
   "x": {"datum": -1965, "type": "quantitative", "scale": {"domain": [-2000, 2000], "nice": false, "zero": false, "range": [113, 988]},
     "axis": {"orient": "bottom", "offset": -822, "values": [-2000, -1500, -1000, -500, 0, 500, 1000, 1500, 2000], "tickSize": 7, "tickWidth": 1.5, "domain": true, "domainWidth": 2, "labelFontSize": 22, "labelPadding": 3, "labelExpr": "datum.value < 0 ? '-' + (-datum.value) : '' + datum.value", "title": "H (Oe)", "titleFontSize": 40, "titleX": 548, "titleY": 73, "titleBaseline": "alphabetic", "titleAlign": "center"}},
   "x2": {"datum": 2000},
   "y": {"datum": 0, "type": "quantitative", "scale": {"domain": [-80, 80], "nice": false, "zero": false, "range": [556, 28]},
     "axis": {"orient": "left", "offset": -113, "values": [-80, -60, -40, -20, 0, 20, 40, 60, 80], "tickSize": 8, "tickWidth": 1.5, "domain": true, "domainWidth": 2, "labelFontSize": 22, "labelPadding": 10, "labelExpr": "datum.value < 0 ? '-' + (-datum.value) : '' + datum.value", "title": "Ms（emu/g）", "titleFontSize": 38, "titleX": -63, "titleY": 270, "titleBaseline": "alphabetic", "titleAngle": 270, "titleAlign": "center"}}
  }},
 {"data": {"values": [{}]}, "mark": {"type": "rule", "strokeWidth": 1.5, "color": "black"},
  "encoding": {
   "x": {"datum": 0, "type": "quantitative", "scale": {"domain": [-2000, 2000], "nice": false, "zero": false, "range": [113, 988]},
     "axis": {"orient": "bottom", "offset": -822, "values": [-1750, -1250, -750, -250, 250, 750, 1250, 1750], "tickSize": 4, "tickWidth": 1.5, "domain": false, "labels": false, "title": null}},
   "y": {"datum": -80, "type": "quantitative", "scale": {"domain": [-80, 80], "nice": false, "zero": false, "range": [556, 28]},
     "axis": {"orient": "left", "offset": -113, "values": [-70, -50, -30, -10, 10, 30, 50, 70], "tickSize": 5, "tickWidth": 1.5, "domain": false, "labels": false, "title": null}},
   "y2": {"datum": 77}
  }},
 {"data": {"values": [{}]}, "mark": {"type": "rule", "strokeWidth": 2, "color": "black"},
  "encoding": {
   "x": {"datum": -2000, "type": "quantitative", "scale": {"domain": [-2000, 2000], "nice": false, "zero": false, "range": [113, 988]}, "axis": null},
   "x2": {"datum": 2000},
   "y": {"datum": 80, "type": "quantitative", "scale": {"domain": [-80, 80], "nice": false, "zero": false, "range": [556, 28]},
     "axis": {"orient": "right", "offset": -1269, "values": [-70, -60, -50, -40, -30, -20, -10, 0, 10, 20, 30, 40, 50, 60, 70], "tickSize": 6, "tickWidth": 1.5, "domain": false, "labels": false, "title": null}}
  }},
 {"data": {"values": [{}]}, "mark": {"type": "rule", "strokeWidth": 2, "color": "black"},
  "encoding": {
   "x": {"datum": 2000, "type": "quantitative", "scale": {"domain": [-2000, 2000], "nice": false, "zero": false, "range": [113, 988]}, "axis": null},
   "y": {"datum": -80, "type": "quantitative", "scale": {"domain": [-80, 80], "nice": false, "zero": false, "range": [556, 28]}, "axis": null},
   "y2": {"datum": 80}
  }},
 {"data": {"name": "loops"}, "transform": [{"filter": {"field": "h", "range": [-2000, 2000]}}],
  "mark": {"type": "line", "strokeWidth": 2.5, "interpolate": "monotone"},
  "encoding": {
   "x": {"field": "h", "type": "quantitative", "scale": {"domain": [-2000, 2000], "nice": false, "zero": false, "range": [113, 988]}, "axis": null},
   "y": {"field": "m", "type": "quantitative", "scale": {"domain": [-80, 80], "nice": false, "zero": false, "range": [556, 28]}, "axis": null},
   "color": {"field": "s", "type": "nominal", "legend": null},
   "detail": {"field": "b", "type": "nominal"}
  }},
 {"data": {"name": "insetNotes"}, "mark": {"type": "rule", "strokeWidth": 2},
  "encoding": {
   "x": {"field": "ax", "type": "quantitative", "scale": {"domain": [-2000, 2000], "nice": false, "zero": false, "range": [113, 988]}, "axis": null},
   "x2": {"field": "hx"},
   "y": {"field": "ay", "type": "quantitative", "scale": {"domain": [-80, 80], "nice": false, "zero": false, "range": [556, 28]}, "axis": null},
   "y2": {"field": "hy"},
   "color": {"condition": {"test": "datum.s === 'x=0.3'", "value": "#000080"}, "field": "s", "type": "nominal", "legend": null}
  }},
 {"data": {"name": "insetNotes"}, "mark": {"type": "point", "shape": "M0,0L0.4,1L-0.4,1Z", "filled": true, "opacity": 1, "size": 576},
  "encoding": {
   "x": {"field": "hx", "type": "quantitative", "scale": {"domain": [-2000, 2000], "nice": false, "zero": false, "range": [113, 988]}, "axis": null},
   "y": {"field": "hy", "type": "quantitative", "scale": {"domain": [-80, 80], "nice": false, "zero": false, "range": [556, 28]}, "axis": null},
   "angle": {"field": "ang", "type": "quantitative", "scale": null},
   "color": {"condition": {"test": "datum.s === 'x=0.3'", "value": "#000080"}, "field": "s", "type": "nominal", "legend": null}
  }},
 {"data": {"name": "insetNotes"}, "mark": {"type": "text", "font": "DejaVu Sans", "fontSize": 33, "color": "black", "align": "center", "baseline": "middle"},
  "encoding": {
   "x": {"field": "tx", "type": "quantitative", "scale": {"domain": [-2000, 2000], "nice": false, "zero": false, "range": [113, 988]}, "axis": null},
   "y": {"field": "ty", "type": "quantitative", "scale": {"domain": [-80, 80], "nice": false, "zero": false, "range": [556, 28]}, "axis": null},
   "text": {"field": "s"}
  }}
],
"resolve": {"axis": {"x": "independent", "y": "independent"}}
}
],
"resolve": {"scale": {"x": "independent", "y": "independent"}, "axis": {"x": "independent", "y": "independent"}}
}
